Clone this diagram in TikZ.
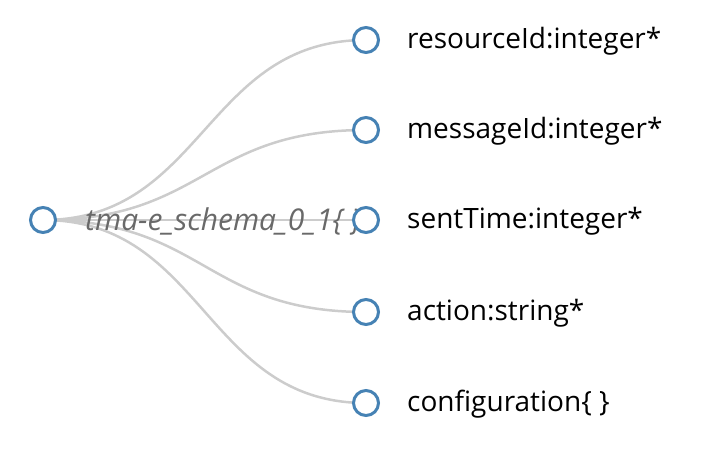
\documentclass[tikz,border=0pt]{standalone}
\usepackage{fontspec}
\setmainfont{Open Sans}
\usetikzlibrary{backgrounds}
\definecolor{nodeblue}{RGB}{70,130,180}
\definecolor{linkgray}{RGB}{204,204,204}
\definecolor{rootgray}{RGB}{105,105,105}

\begin{document}
\begin{tikzpicture}[x=1pt, y=-1pt,
    leaf/.style={circle, draw=nodeblue, line width=3pt, fill=white, minimum size=25pt, inner sep=0pt},
    link/.style={linkgray, line width=2.5pt},
    leaflabel/.style={anchor=base west, inner sep=0pt, font=\fontsize{28}{32}\selectfont}]
    \useasboundingbox (0,0) rectangle (708,448);

    \node[leaf] (root) at (43,220) {};
    \node[leaflabel, text=rootgray, font=\fontsize{30}{34}\selectfont\itshape] (rootlabel) at (85,230) {tma-e\_schema\_0\_1\{ \}};

    \foreach \name/\y/\txt in {resource/40/{resourceId:integer*}, message/130/{messageId:integer*},
        sent/220/{sentTime:integer*}, action/312/{action:string*}, config/403/{configuration\{ \}}} {
      \node[leaf] (\name) at (366,\y) {};
      \node[leaflabel] (\name-label) at (407,\y+8) {\txt};
    }

    \begin{scope}[on background layer]
      \foreach \name in {resource, message, sent, action, config}
        \draw[link] (root.center) .. controls +(161,0) and +(-161,0) .. (\name.center);
    \end{scope}
\end{tikzpicture}
\end{document}
